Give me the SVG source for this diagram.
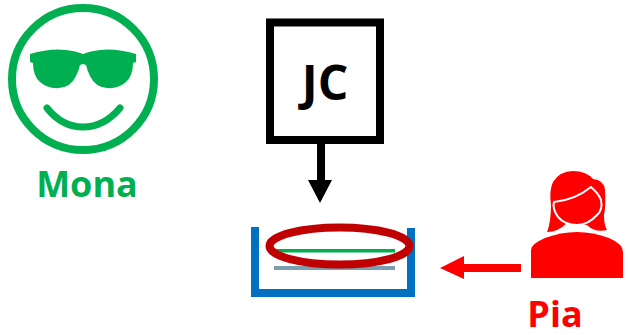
<svg xmlns="http://www.w3.org/2000/svg" width="628" height="335" viewBox="0 0 628 335">
<style>
text{font-family:"Open Sans","Noto Sans","Liberation Sans",sans-serif;font-weight:700;text-anchor:middle}
.g{fill:#00B050}.r{fill:#FF0000}
</style>
<rect width="628" height="335" fill="#fff"/>
<g id="mona">
<circle cx="83" cy="79" r="71" fill="none" stroke="#00B050" stroke-width="8"/>
<path class="g" d="M30 54Q50 48 66 50Q76 51 83 54Q90 51 100 50Q116 48 136 54V62L133 63Q133 76 126 82Q118 89 107 88Q95 87 90 76Q87 70 86 65L83 64L80 65Q79 70 76 76Q71 87 59 88Q48 89 40 82Q33 76 33 63L30 62Z"/>
<path d="M47 108Q62 127 83 127Q104 127 120 108" fill="none" stroke="#00B050" stroke-width="7" stroke-linecap="round"/>
<text class="g" x="87" y="197" font-size="36">Mona</text>
</g>
<g id="jc">
<rect x="270" y="22.5" width="110" height="117.500" fill="#fff" stroke="#000" stroke-width="8"/>
<text x="325" y="100" font-size="48">JC</text>
</g>
<g id="tray">
<path d="M255 227V293H411V228" fill="none" stroke="#0070C0" stroke-width="8"/>
<rect x="276" y="249" width="119" height="3.500" fill="#00B050"/>
<rect x="274" y="266" width="121" height="4" fill="#7A9DB0"/>
<ellipse cx="339.500" cy="246" rx="70" ry="18.500" fill="none" stroke="#C00000" stroke-width="8"/>
</g>
<g id="pia">
<path class="r" d="M547 232Q551 222 551 205Q549 190 553 182Q560 171 573 171Q586 171 593 179Q604 180 605 190Q606 205 604 215Q604 225 607 230Q595 233 587 225L567 223Q558 232 547 232Z"/>
<path class="r" stroke="#fff" stroke-width="2" d="M554 202Q575 200 591 187Q599 194 601 200Q603 210 597 215Q588 225 577 225Q565 225 558 217Q552 208 554 202Z"/>
<path class="r" d="M531 278V250Q531 244 545 238Q577 226 609 238Q623 244 623 252V278Z"/>
<text class="r" x="555" y="327" font-size="36">Pia</text>
</g>
<g id="connectors">
<path d="M317 144H325V180H332L320 203L308 180H317Z" fill="#000"/>
<path class="r" d="M521 264H464V256L440 268L464 279V272H521Z"/>
</g>
</svg>
